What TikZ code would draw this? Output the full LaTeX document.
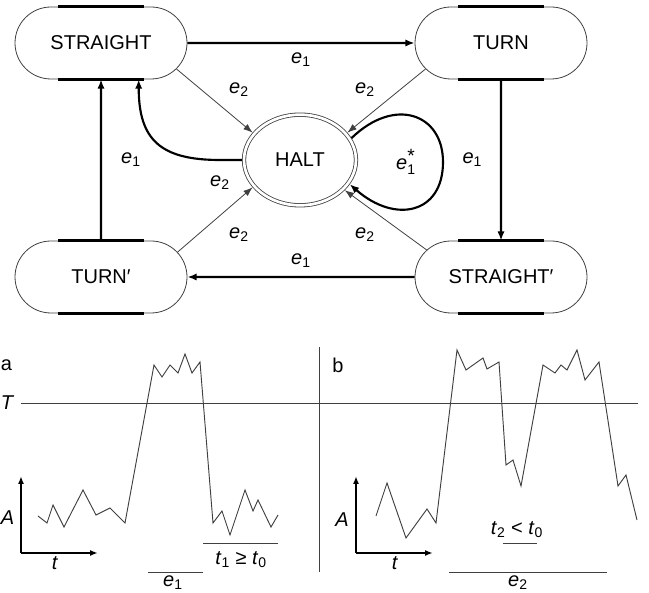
\documentclass[tikz,border=0pt]{standalone}
\usepackage{fontspec}
\usepackage{amsmath}
\setmainfont{Liberation Sans}
\usetikzlibrary{arrows.meta, positioning, shapes.geometric, shapes.misc}

\newcommand{\ee}[1]{\textit{e}\textsubscript{#1}}
\newcommand{\tsub}[1]{\textit{t}\textsubscript{#1}}

\begin{document}
\begin{tikzpicture}[x=0.75pt, y=0.75pt,
    font=\fontsize{15}{18}\selectfont,
    state/.style={rounded rectangle, draw=black!75, line width=0.6pt, minimum width=129pt, minimum height=54pt, inner sep=0pt},
    haltst/.style={ellipse, draw=black!75, double, double distance=2pt, line width=0.6pt, minimum width=84pt, minimum height=68pt, inner sep=0pt, outer sep=1.5pt},
    bar/.style={line width=2.2pt},
    main/.style={-{Latex[length=7pt, width=5.5pt]}, line width=1.6pt},
    side/.style={-{Latex[length=7pt, width=5pt]}, line width=0.6pt, draw=black!75},
    lbl/.style={inner sep=1pt},
    edgelbl/.style={anchor=west, inner sep=0.5pt},
    sig/.style={line width=0.7pt, draw=black!75},
    ax/.style={-{Latex[length=6pt, width=4.5pt]}, line width=1.3pt}
]
\useasboundingbox (0,0) rectangle (649,592);

% state graph
\node[state] (straight) at (101,549) {STRAIGHT};
\node[state] (turn) at (501,549) {TURN};
\node[state] (turnp) at (101,315) {TURN′};
\node[state] (straightp) at (501,315) {STRAIGHT′};
\node[haltst] (halt) at (300,432) {HALT};

\foreach \s in {straight, turn, turnp, straightp} {
  \draw[bar] ([xshift=-32pt]\s.north) -- ([xshift=32pt]\s.north);
  \draw[bar] ([xshift=-32pt]\s.south) -- ([xshift=32pt]\s.south);
}

\draw[main] (straight) -- node[below=3pt] {\ee1} (turn);
\draw[main] (turn) -- node[left=10pt] {\ee1} (straightp);
\draw[main] (straightp) -- node[above=3pt] {\ee1} (turnp);
\draw[main] (turnp) -- node[right=11pt] {\ee1} (straight);

\draw[side] (straight.-19) -- (halt.150);
\draw[side] (turn.-161) -- (halt.30);
\draw[side] (turnp.18) -- (halt.-150);
\draw[side] (straightp.160) -- (halt.-34);

\node[lbl] at (239,502) {\ee2};
\node[lbl] at (365,502) {\ee2};
\node[lbl] at (220,409) {\ee2};
\node[lbl] at (239,357) {\ee2};
\node[lbl] at (365,357) {\ee2};

\draw[main] (halt.west) -- ++(-22,0) .. controls +(-60,0) and +(0,-60) .. (straight.-44);

\coordinate (loopr) at (443,430);
\draw[main] (halt.23) .. controls (395,496) and (443,478) .. (loopr)
  .. controls (443,378) and (395,368) .. (halt.-26);
\node[lbl] at (406,430) {\textit{e}$_{\text{1}}^{\text{\Large *}}$};

% signal panels
\draw[sig] (21,189) -- (638,189);
\draw[sig] (319,245) -- (319,20);
\node[edgelbl] at (0,189) {\textit{T}};
\node[edgelbl] at (0,227) {a};
\node at (338,227) {b};

% panel a
\draw[sig] plot coordinates {(38,76) (47,69) (53,87) (64,65) (83,102) (96,77) (110,84) (125,69)
  (154,227) (162,215) (170,227) (178,219) (185,238) (192,219) (200,230) (213,69) (222,81)
  (230,57) (245,102) (253,81) (258,92) (271,65) (278,77)};
\coordinate (oa) at (21,39);
\draw[ax] (oa) -- ++(77,0);
\draw[ax] (oa) -- ++(0,77);
\node[edgelbl] at (0,74) {\textit{A}};
\node at (55,29) {\textit{t}};
\draw[sig] (203,49) -- (278,49);
\node at (241,32) {\tsub1 ≥ \tsub0};
\draw[sig] (148,20) -- (203,20);
\node at (173,9) {\ee1};

% panel b
\draw[sig] plot coordinates {(376,76) (387,109) (406,54) (427,83) (436,69) (457,242) (466,222)
  (483,234) (487,223) (499,230) (506,127) (513,132) (521,106) (543,227) (555,219) (561,227)
  (567,222) (577,242) (585,212) (599,230) (618,106) (626,117) (637,72)};
\coordinate (ob) at (356,39);
\draw[ax] (ob) -- ++(77,0);
\draw[ax] (ob) -- ++(0,77);
\node at (342,72) {\textit{A}};
\node at (395,29) {\textit{t}};
\node at (517,62) {\tsub2 < \tsub0};
\draw[sig] (503,49) -- (537,49);
\draw[sig] (449,20) -- (607,20);
\node at (518,9) {\ee2};
\end{tikzpicture}
\end{document}
